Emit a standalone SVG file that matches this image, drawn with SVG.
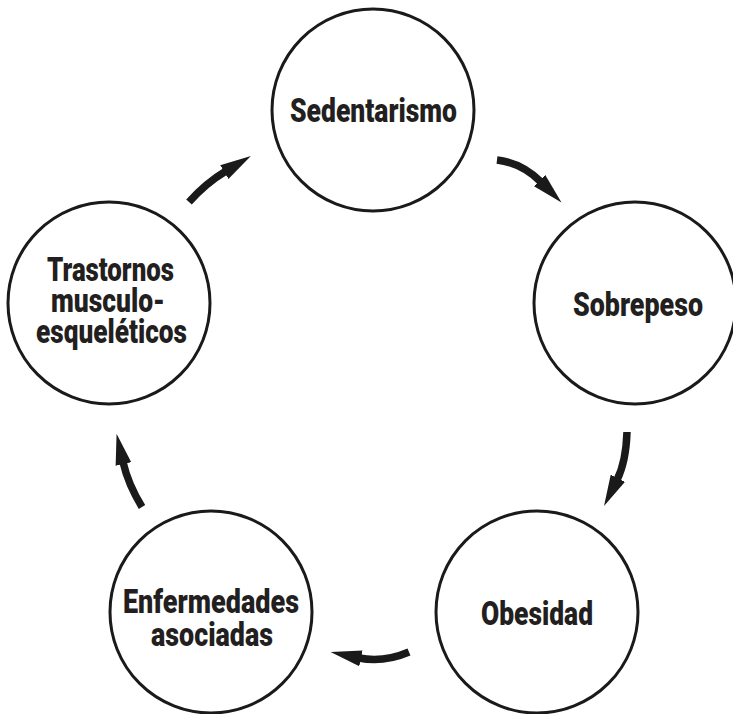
<svg xmlns="http://www.w3.org/2000/svg" width="733" height="714" viewBox="0 0 733 714">
<style>
.node circle{fill:#fff;stroke:#1a1a1a;stroke-width:3}
.node text{font-family:Roboto,"Liberation Sans",sans-serif;font-weight:900;font-size:33px;fill:#231f20;text-anchor:middle}
.conn path{fill:none;stroke:#1a1a1a;stroke-width:7.5;stroke-linecap:butt}
</style>
<defs>
<marker id="head" markerUnits="userSpaceOnUse" viewBox="-2 -9 32 18" refX="0" refY="0" markerWidth="32" markerHeight="18" orient="auto">
<path d="M-2,-8 L29,0 L-2,8 z" fill="#1a1a1a"/>
</marker>
</defs>
<rect width="733" height="714" fill="#fff"/>
<g id="connectors" class="conn">
<path d="M497,160 Q522,163 541,182" marker-end="url(#head)"/>
<path d="M627,432 Q626,462 617,480" marker-end="url(#head)"/>
<path d="M409,652 Q383,663 359,658" marker-end="url(#head)"/>
<path d="M142,507 Q128,484 123,462" marker-end="url(#head)"/>
<path d="M189,202 Q206,183 226,171" marker-end="url(#head)"/>
</g>
<g id="sedentarismo" class="node">
<circle cx="373" cy="110" r="101"/>
<text x="373.5" y="122" textLength="167" lengthAdjust="spacingAndGlyphs">Sedentarismo</text>
</g>
<g id="sobrepeso" class="node">
<circle cx="635" cy="303" r="101"/>
<text x="638" y="316" textLength="130" lengthAdjust="spacingAndGlyphs">Sobrepeso</text>
</g>
<g id="obesidad" class="node">
<circle cx="537" cy="612" r="101"/>
<text x="537" y="625" textLength="112" lengthAdjust="spacingAndGlyphs">Obesidad</text>
</g>
<g id="enfermedades" class="node">
<circle cx="211" cy="612" r="101"/>
<text x="211" y="613" textLength="176" lengthAdjust="spacingAndGlyphs">Enfermedades</text>
<text x="212" y="646" textLength="122" lengthAdjust="spacingAndGlyphs">asociadas</text>
</g>
<g id="trastornos" class="node">
<circle cx="109" cy="303" r="101"/>
<text x="110.5" y="281" textLength="127" lengthAdjust="spacingAndGlyphs">Trastornos</text>
<text x="108" y="312" textLength="114" lengthAdjust="spacingAndGlyphs">musculo-</text>
<text x="111.5" y="343" textLength="151" lengthAdjust="spacingAndGlyphs">esqueléticos</text>
</g>
</svg>
